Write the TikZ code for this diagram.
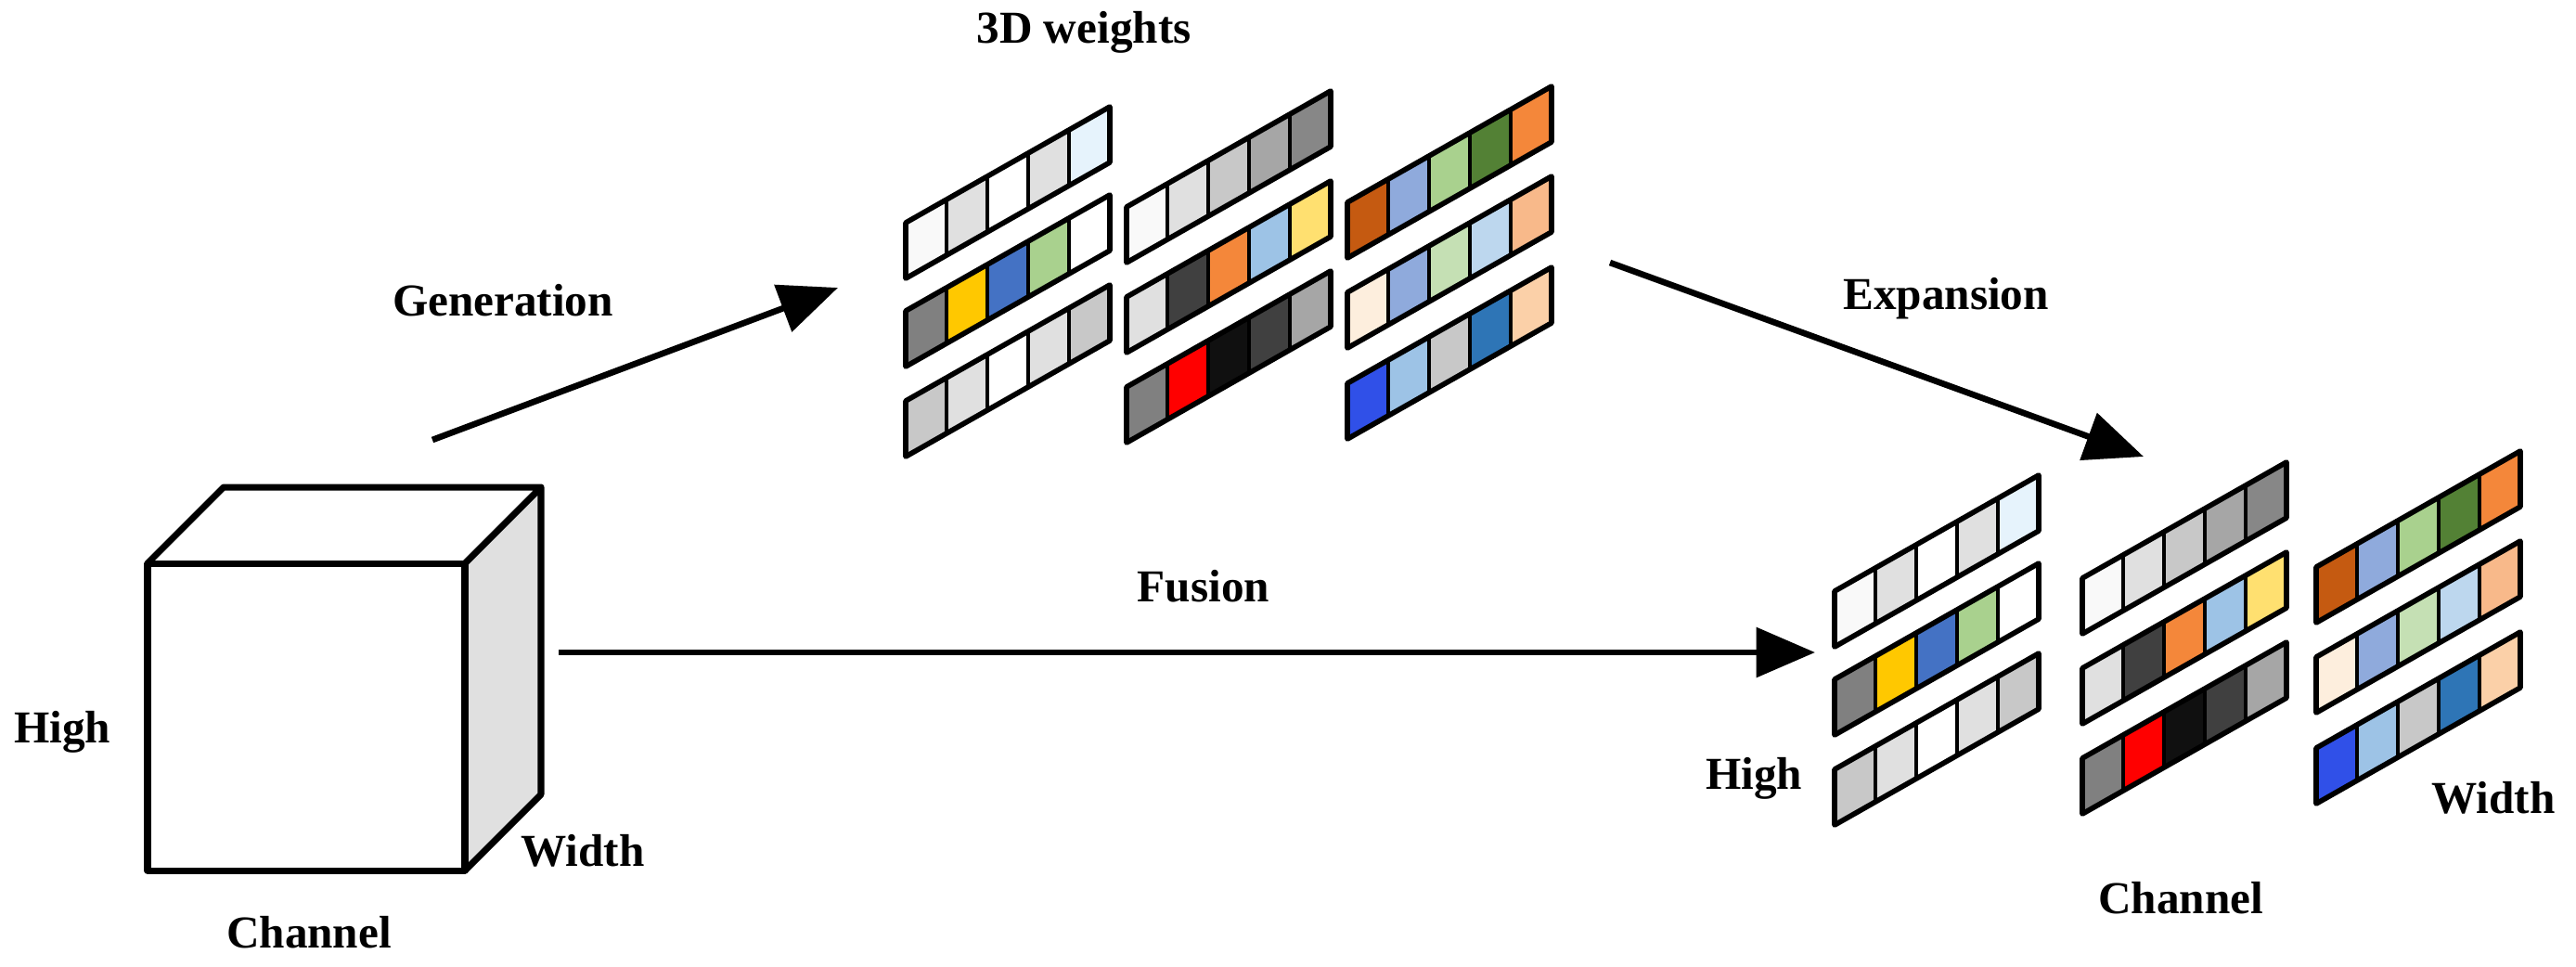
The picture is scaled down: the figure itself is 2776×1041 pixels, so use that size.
\documentclass[tikz,border=0pt]{standalone}
\usepackage{fontspec}
\setmainfont{Liberation Serif}
\usetikzlibrary{arrows.meta}
\begin{document}
\begin{tikzpicture}[x=0.01cm,y=-0.01cm,
  lbl/.style={font=\bfseries\fontsize{14}{16}\selectfont},
  arr/.style={line width=1.9pt,-{Triangle[length=18pt,width=15pt]}},
  cell/.style={draw=black,line width=0.9pt,line join=round}]
\useasboundingbox (0,0) rectangle (2776,1041);
\newcommand\wstrip[3]{%
  \foreach \c [count=\i from 0] in {#3}{%
    \fill[\c] ({#1+44*\i},{#2-25*\i}) -- ({#1+44*(\i+1)},{#2-25*(\i+1)}) -- ({#1+44*(\i+1)},{#2-25*(\i+1)+60}) -- ({#1+44*\i},{#2-25*\i+60}) -- cycle;
    \draw[line width=1.2pt] ({#1+44*\i},{#2-25*\i}) -- ({#1+44*\i},{#2-25*\i+60});
  }
  \draw[line width=1.6pt,line join=round] (#1,#2) -- ({#1+220},{#2-125}) -- ({#1+220},{#2-65}) -- (#1,{#2+60}) -- cycle;
}
\definecolor{cA}{HTML}{F9F9F9}\definecolor{cB}{HTML}{E0E0E0}\definecolor{cC}{HTML}{E6F3FC}
\definecolor{cD}{HTML}{808080}\definecolor{cE}{HTML}{FFC800}\definecolor{cF}{HTML}{4472C4}
\definecolor{cG}{HTML}{A9D18E}\definecolor{cH}{HTML}{C8C8C8}\definecolor{cI}{HTML}{A6A6A6}
\definecolor{cJ}{HTML}{878787}\definecolor{cK}{HTML}{404040}\definecolor{cL}{HTML}{F4873A}
\definecolor{cM}{HTML}{9DC3E6}\definecolor{cN}{HTML}{FFE070}\definecolor{cO}{HTML}{FF0000}
\definecolor{cP}{HTML}{101010}\definecolor{cQ}{HTML}{C55A11}\definecolor{cR}{HTML}{8FAADC}
\definecolor{cS}{HTML}{538135}\definecolor{cT}{HTML}{FDEEDD}\definecolor{cU}{HTML}{C5E0B4}
\definecolor{cV}{HTML}{BDD7EE}\definecolor{cW}{HTML}{F8B98A}\definecolor{cX}{HTML}{3050E8}
\definecolor{cY}{HTML}{2E75B6}\definecolor{cZ}{HTML}{FBD0A8}
\newcommand\wgroup[6]{%
  \wstrip{#1}{#2}{cA,cB,white,cB,cC}
  \wstrip{#1}{#2+95}{cD,cE,cF,cG,white}
  \wstrip{#1}{#2+192}{cH,cB,white,cB,cH}
  \wstrip{#3}{#4}{cA,cB,cH,cI,cJ}
  \wstrip{#3}{#4+97}{cB,cK,cL,cM,cN}
  \wstrip{#3}{#4+194}{cD,cO,cP,cK,cI}
  \wstrip{#5}{#6}{cQ,cR,cG,cS,cL}
  \wstrip{#5}{#6+97}{cT,cR,cU,cV,cW}
  \wstrip{#5}{#6+195}{cX,cM,cH,cY,cZ}
}
% cube
\fill[cB] (501,607) -- (583,525) -- (583,856) -- (501,938) -- cycle;
\draw[line width=2pt,line join=round] (159,607) rectangle (501,938);
\draw[line width=2pt,line join=round] (159,607) -- (241,525) -- (583,525) -- (501,607)
  (583,525) -- (583,856) -- (501,938);
% weight groups
\wgroup{976}{240}{1214}{223}{1452}{218}
\wgroup{1977}{637}{2244}{623}{2496}{611}
% labels
\node[lbl] (t3d) at (1168,35) {3D weights};
\node[lbl] (tgen) at (542,324) {Generation};
\node[lbl] (tfus) at (1297,632) {Fusion};
\node[lbl] (texp) at (2097,322) {Expansion};
\node[lbl] (hl) at (67,789) {High};
\node[lbl] (wl) at (628,917) {Width};
\node[lbl] (cl) at (333,1005) {Channel};
\node[lbl] (hr) at (1890,839) {High};
\node[lbl] (cr) at (2350,968) {Channel};
\node[lbl] (wr) at (2687,860) {Width};
% arrows
\coordinate (g0) at (466,474); \coordinate (g1) at (903,310);
\coordinate (e0) at (1735,283); \coordinate (e1) at (2310,492);
\coordinate (f0) at (602,703); \coordinate (f1) at (1956,703);
\draw[arr] (g0) -- (g1);
\draw[arr] (e0) -- (e1);
\draw[arr] (f0) -- (f1);
\end{tikzpicture}
\end{document}
